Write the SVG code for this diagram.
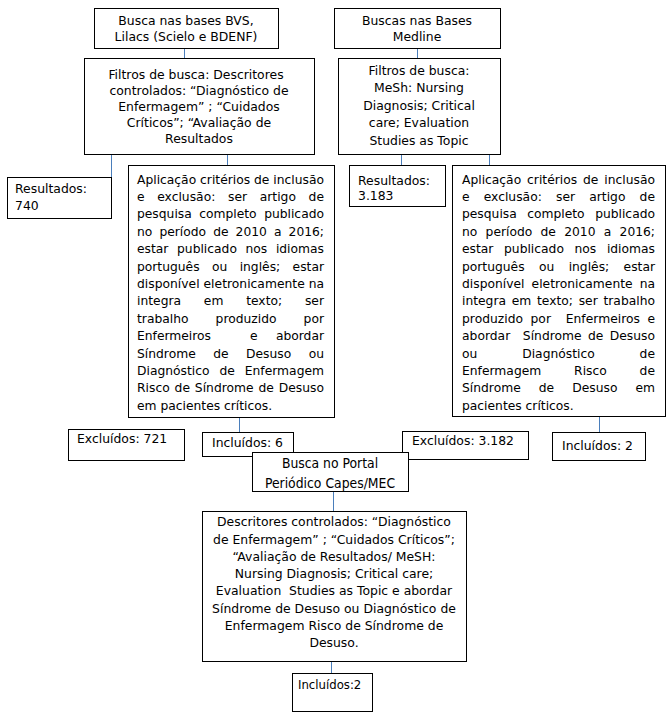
<svg xmlns="http://www.w3.org/2000/svg" width="671" height="719" viewBox="0 0 671 719">
<style>
.b{fill:#fff;stroke:#000;stroke-width:1}
.t{font-family:"DejaVu Sans",Verdana,sans-serif;font-size:12.4px;fill:#000}
.c{text-anchor:middle}
.e{text-anchor:end}
.j{font-size:12.3px}
.n{font-family:"DejaVu Sans Condensed","Liberation Sans",sans-serif;font-size:13.8px;fill:#000}
.k{stroke:#4a7ebb;stroke-width:1;fill:none}
</style>
<rect width="671" height="719" fill="#fff"/>
<g id="connectors">
<path class="k" d="M184.5 48V58M417.5 48V58M111.5 154V177M227.5 154V165M401.5 154V165M489.5 154V165M239.5 417V432M599.5 416V432M333.5 491V511M331.5 661V673"/>
</g>
<g id="n1">
<rect class="b" x="94.5" y="8.5" width="184" height="40"/>
<text class="t c" x="186" y="24.5">Busca nas bases BVS,</text>
<text class="t c" x="186" y="41">Lilacs (Scielo e BDENF)</text>
</g>
<g id="n2">
<rect class="b" x="334.5" y="8.5" width="166" height="40"/>
<text class="t c" x="417" y="24.5">Buscas nas Bases</text>
<text class="t c" x="417" y="41">Medline</text>
</g>
<g id="n3">
<rect class="b" x="84.5" y="58.5" width="230" height="96"/>
<text class="t c" x="196" y="78.5">Filtros de busca: Descritores</text>
<text class="t c" x="199" y="94.5">controlados: “Diagnóstico de</text>
<text class="t c" x="199" y="110.5">Enfermagem” ; “Cuidados</text>
<text class="t c" x="199" y="126.5">Críticos”; “Avaliação de</text>
<text class="t c" x="199" y="142.5">Resultados</text>
</g>
<g id="n4">
<rect class="b" x="338.5" y="58.5" width="162" height="96"/>
<text class="t c" x="419" y="74.5">Filtros de busca:</text>
<text class="t c" x="419" y="92">MeSh: Nursing</text>
<text class="t c" x="419" y="109.5">Diagnosis; Critical</text>
<text class="t c" x="419" y="127">care; Evaluation</text>
<text class="t c" x="419" y="144.5">Studies as Topic</text>
</g>
<g id="n5">
<rect class="b" x="7.5" y="177.5" width="104" height="41"/>
<text class="t" x="15" y="192.5">Resultados:</text>
<text class="t" x="15" y="209.5">740</text>
</g>
<g id="n6">
<rect class="b" x="128.5" y="165.5" width="206" height="252"/>
<g class="t j">
<text x="137" y="183.5" textLength="187" lengthAdjust="spacing">Aplicação critérios de inclusão</text>
<text x="137" y="200.9" textLength="187" lengthAdjust="spacing" word-spacing="8.7">e exclusão: ser artigo de</text>
<text x="137" y="218.3" textLength="187" lengthAdjust="spacing" word-spacing="3.6">pesquisa completo publicado</text>
<text x="137" y="235.7" textLength="187" lengthAdjust="spacing" word-spacing="3.2">no período de 2010 a 2016;</text>
<text x="137" y="253.1" textLength="187" lengthAdjust="spacing" word-spacing="4.7">estar publicado nos idiomas</text>
<text x="137" y="270.5" textLength="187" lengthAdjust="spacing" word-spacing="8.5">português ou inglês; estar</text>
<text x="137" y="287.9" textLength="187" lengthAdjust="spacing">disponível eletronicamente na</text>
<text x="137" y="305.3" textLength="187" lengthAdjust="spacing" word-spacing="18.8">integra em texto; ser</text>
<text x="137" y="322.7" textLength="187" lengthAdjust="spacing" word-spacing="23">trabalho produzido por</text>
<text x="137" y="340.1">Enfermeiros</text>
<text x="250" y="340.1">e</text>
<text class="e" x="324" y="340.1">abordar</text>
<text x="137" y="357.5" textLength="187" lengthAdjust="spacing" word-spacing="13.5">Síndrome de Desuso ou</text>
<text x="137" y="374.9" textLength="187" lengthAdjust="spacing" word-spacing="6">Diagnóstico de Enfermagem</text>
<text x="137" y="392.3" textLength="187" lengthAdjust="spacing" word-spacing="0.95">Risco de Síndrome de Desuso</text>
<text x="137" y="409.7">em pacientes críticos.</text>
</g>
</g>
<g id="n7">
<rect class="b" x="349.5" y="165.5" width="96" height="41"/>
<text class="t" x="358" y="184.5">Resultados:</text>
<text class="t" x="358" y="199.5">3.183</text>
</g>
<g id="n8">
<rect class="b" x="452.5" y="165.5" width="213" height="251"/>
<g class="t j">
<text x="462" y="183.5" textLength="193" lengthAdjust="spacing" word-spacing="2">Aplicação critérios de inclusão</text>
<text x="462" y="200.9" textLength="193" lengthAdjust="spacing" word-spacing="10.2">e exclusão: ser artigo de</text>
<text x="462" y="218.3" textLength="193" lengthAdjust="spacing" word-spacing="6.6">pesquisa completo publicado</text>
<text x="462" y="235.7" textLength="193" lengthAdjust="spacing" word-spacing="4.4">no período de 2010 a 2016;</text>
<text x="462" y="253.1" textLength="193" lengthAdjust="spacing" word-spacing="6.7">estar publicado nos idiomas</text>
<text x="462" y="270.5" textLength="193" lengthAdjust="spacing" word-spacing="10.5">português ou inglês; estar</text>
<text x="462" y="287.9" textLength="193" lengthAdjust="spacing" word-spacing="3.1">disponível eletronicamente na</text>
<text x="462" y="305.3" textLength="193" lengthAdjust="spacing" word-spacing="1.8">integra em texto; ser trabalho</text>
<text x="462" y="322.7" textLength="193" lengthAdjust="spacing" word-spacing="3.45" xml:space="preserve">produzido por  Enfermeiros e</text>
<text x="462" y="340.1" textLength="193" lengthAdjust="spacing" word-spacing="2.4" xml:space="preserve">abordar  Síndrome de Desuso</text>
<text x="462" y="357.5" textLength="193" lengthAdjust="spacing" word-spacing="41">ou Diagnóstico de</text>
<text x="462" y="374.9" textLength="193" lengthAdjust="spacing" word-spacing="28.9">Enfermagem Risco de</text>
<text x="462" y="392.3" textLength="193" lengthAdjust="spacing" word-spacing="14.1">Síndrome de Desuso em</text>
<text x="462" y="409.7">pacientes críticos.</text>
</g>
</g>
<g id="n9">
<rect class="b" x="68.5" y="429.5" width="116" height="31"/>
<text class="t" x="77" y="442.8">Excluídos: 721</text>
</g>
<g id="n10">
<rect class="b" x="202.5" y="432.5" width="91" height="24"/>
<text class="t" x="212" y="447">Incluídos: 6</text>
</g>
<g id="n11">
<rect class="b" x="402.5" y="431.5" width="126" height="28"/>
<text class="t" x="412" y="445">Excluídos: 3.182</text>
</g>
<g id="n12">
<rect class="b" x="552.5" y="432.5" width="93" height="28"/>
<text class="t" x="562" y="449.5">Incluídos: 2</text>
</g>
<g id="n13">
<rect class="b" x="252.5" y="452.5" width="156" height="39"/>
<text class="n c" x="330" y="468">Busca no Portal</text>
<text class="n c" x="330" y="488">Periódico Capes/MEC</text>
</g>
<g id="n14">
<rect class="b" x="202.5" y="511.5" width="264" height="150"/>
<text class="t c" x="334" y="526.2">Descritores controlados: “Diagnóstico</text>
<text class="t c" x="334" y="543.5">de Enfermagem” ; “Cuidados Críticos”;</text>
<text class="t c" x="334" y="560.8">“Avaliação de Resultados/ MeSH:</text>
<text class="t c" x="334" y="578.1">Nursing Diagnosis; Critical care;</text>
<text class="t c" x="334" y="595.4" xml:space="preserve">Evaluation  Studies as Topic e abordar</text>
<text class="t c" x="334" y="612.7">Síndrome de Desuso ou Diagnóstico de</text>
<text class="t c" x="334" y="630">Enfermagem Risco de Síndrome de</text>
<text class="t c" x="334" y="647.3">Desuso.</text>
</g>
<g id="n15">
<rect class="b" x="292.5" y="673.5" width="80" height="38"/>
<text class="n" x="298" y="689" style="font-size:13px">Incluídos:2</text>
</g>
</svg>
